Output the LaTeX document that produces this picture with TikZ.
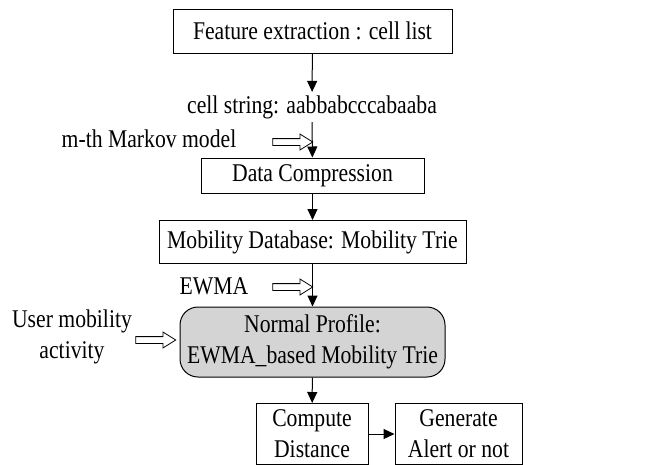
\documentclass[tikz,border=0pt]{standalone}
\usepackage{fontspec}
\setmainfont{Liberation Serif}[FakeStretch=0.85]
\usetikzlibrary{arrows.meta, positioning, shapes.arrows}
\definecolor{profilegray}{rgb}{0.83,0.83,0.83}
\tikzset{
  stagebox/.style={%
    draw,
    rectangle,
    inner sep=0,
    align=center,
  },
  plainlabel/.style={%
    inner sep=3pt,
    align=center,
  },
  hollowarrow/.style={%
    draw,
    single arrow,
    inner sep=0,
    inner ysep=3pt,
    minimum height=40,
    single arrow head extend=4.5pt,
    single arrow tip angle=64,
    line width=0.8pt,
  },
  flow/.style={-{Triangle[length=11pt,width=10pt]}},
}

\begin{document}
\begin{tikzpicture}[x=1pt,y=-1pt,line width=1pt,
    font=\fontsize{25.5}{31}\selectfont]
    \useasboundingbox (0,0) rectangle (655,464);
    % main column
    \node (feature) [stagebox,minimum width=279,minimum height=44] at (312.5,31) {Feature extraction : cell list};
    \node (cellstr) [plainlabel] at (312,107) {cell string: aabbabcccabaaba};
    \node (compress) [stagebox,minimum width=223,minimum height=35] at (312.5,175.5) {Data Compression};
    \node (mobdb) [stagebox,minimum width=307,minimum height=43] at (312.5,242) {Mobility Database: Mobility Trie};
    \node (profile) [stagebox,fill=profilegray,rounded corners=18pt,minimum width=265,minimum height=70] at (312.5,342) {Normal Profile:\\EWMA\_based Mobility Trie};
    \node (distance) [stagebox,minimum width=112,minimum height=61] at (312,434) {Compute\\Distance};
    \node (alert) [stagebox,minimum width=127,minimum height=61] at (458.5,434) {Generate\\Alert or not};
    % side inputs
    \node (markov) [plainlabel] at (149,139) {m-th Markov model};
    \node (markovin) [hollowarrow] at (290,142) {};
    \node (ewma) [plainlabel] at (214,286) {EWMA};
    \node (ewmain) [hollowarrow] at (290,287) {};
    \node (user) [plainlabel] at (72,337) {User mobility\\activity};
    \node (userin) [hollowarrow] at (153,340) {};
    % connectors
    \draw [flow] (feature) -- (cellstr);
    \draw [flow] (cellstr) -- (compress);
    \draw [flow] (compress) -- (mobdb);
    \draw [flow] (mobdb) -- (profile);
    \draw [flow] (profile) -- (distance);
    \draw [flow] (distance) -- (alert);
\end{tikzpicture}
\end{document}
